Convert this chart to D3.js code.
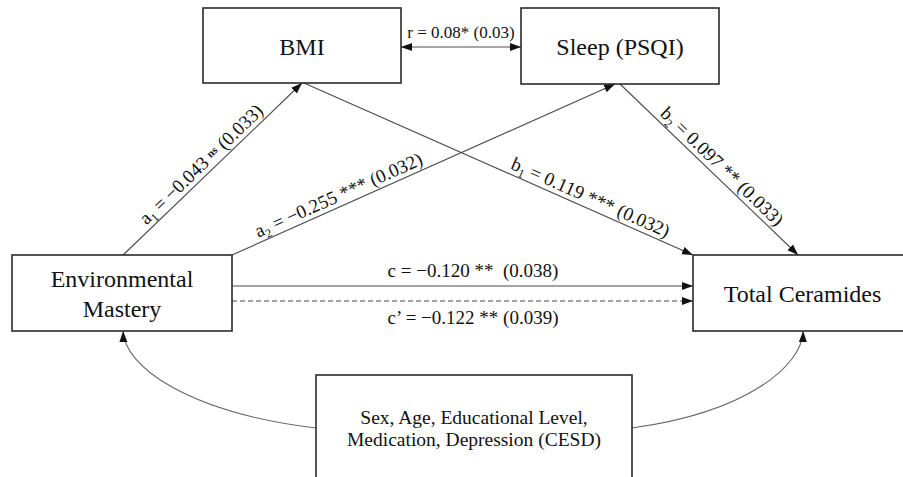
<!DOCTYPE html>
<html><head><meta charset="utf-8">
<script src="https://cdn.jsdelivr.net/npm/d3@7"></script>
<style>body{margin:0;background:#fff} svg{display:block}</style>
</head><body><svg id="chart" width="903" height="477"></svg>
<script>
// ---------- data ----------
const nodeIds    = ["bmi", "sleep", "env", "cer", "cov"];
const nodeLabels = [["BMI"], ["Sleep (PSQI)"], ["Environmental", "Mastery"], ["Total Ceramides"],
                    ["Sex, Age, Educational Level,", "Medication, Depression (CESD)"]];
const pathNames = ["a", "a", "b", "b", "c", "c\u2019"];
const pathSubs  = ["1", "2", "1", "2", "", ""];
const pathFrom  = ["env", "env", "bmi", "sleep", "env", "env"];
const pathTo    = ["bmi", "sleep", "cer", "cer", "cer", "cer"];
const pathCoef  = [-0.043, -0.255, 0.119, 0.097, -0.120, -0.122];
const pathSE    = [0.033, 0.032, 0.032, 0.033, 0.038, 0.039];
const pathSig   = ["ns", "***", "***", "**", "**", "**"];
const corrValue = [0.08];
const corrSig   = ["*"];
const corrSE    = [0.03];

// ---------- layout ----------
const boxes = {
  bmi:   {x: 203, y: 8,   w: 198, h: 75, size: 24, base: [55]},
  sleep: {x: 521, y: 8,   w: 198, h: 76, size: 24, base: [55]},
  env:   {x: 12,  y: 255, w: 220, h: 76, size: 24, base: [287, 317]},
  cer:   {x: 693, y: 255, w: 219, h: 76, size: 24, base: [302]},
  cov:   {x: 316, y: 375, w: 316, h: 130, size: 19.5, base: [424, 446]}
};

function anchor(id, side, f) {
  const b = boxes[id];
  if (side === "top") return [b.x + f * b.w, b.y];
  if (side === "bottom") return [b.x + f * b.w, b.y + b.h];
  if (side === "left") return [b.x, b.y + f * b.h];
  return [b.x + b.w, b.y + f * b.h];
}
const pathGeom = [
  {s: ["top", 0.505], t: ["bottom", 0.5],   lt: 0.48, off: 5},
  {s: ["top", 1.0],   t: ["bottom", 0.475], lt: 0.29, off: 5},
  {s: ["bottom", 0.51], t: ["top", 0.0],    lt: 0.725, off: 5},
  {s: ["bottom", 0.5], t: ["top", 0.48],    lt: 0.53, off: 5},
  {s: ["right", 0.408], t: ["left", 0.408], lab: [473, 277], dash: null},
  {s: ["right", 0.605], t: ["left", 0.605], lab: [473, 324], dash: "5,3"}
];

const svg = d3.select("#chart");
const FONT = "'Liberation Serif','Times New Roman',serif";
const fmt3 = d3.format(".3f"), fmt2 = d3.format(".2f");

const defs = svg.append("defs");
defs.append("marker").attr("id", "arr").attr("markerUnits", "userSpaceOnUse")
  .attr("markerWidth", 12).attr("markerHeight", 10).attr("refX", 11).attr("refY", 4.5)
  .attr("orient", "auto-start-reverse").attr("viewBox", "0 0 12 10")
  .append("path").attr("d", "M0,0.5 L11,4.5 L0,8.5 Z").attr("fill", "#111");

// straight paths
const lineColor = "#4a4a4a";
pathGeom.forEach((g, i) => {
  const p0 = anchor(pathFrom[i], g.s[0], g.s[1]);
  const p1 = anchor(pathTo[i], g.t[0], g.t[1]);
  svg.append("line").attr("x1", p0[0]).attr("y1", p0[1]).attr("x2", p1[0]).attr("y2", p1[1])
    .attr("stroke", lineColor).attr("stroke-width", 1.1)
    .attr("stroke-dasharray", g.dash).attr("marker-end", "url(#arr)");

  const t = svg.append("text").attr("font-family", FONT).attr("font-size", 19)
    .attr("fill", "#111").attr("text-anchor", "middle").style("white-space", "pre");
  if (g.lab) {
    t.attr("x", g.lab[0]).attr("y", g.lab[1]);
  } else {
    const ang = Math.atan2(p1[1] - p0[1], p1[0] - p0[0]);
    const cx = p0[0] + g.lt * (p1[0] - p0[0]) + Math.sin(ang) * g.off;
    const cy = p0[1] + g.lt * (p1[1] - p0[1]) - Math.cos(ang) * g.off;
    t.attr("transform", `translate(${cx},${cy}) rotate(${ang * 180 / Math.PI})`);
  }
  t.append("tspan").text(pathNames[i]);
  if (pathSubs[i]) {
    t.append("tspan").attr("font-size", 12).attr("dy", 4).text(pathSubs[i]);
    t.append("tspan").attr("dy", -4).text(" = " + fmt3(pathCoef[i]) + " ");
  } else {
    t.append("tspan").text(" = " + fmt3(pathCoef[i]) + " ");
  }
  if (pathSig[i] === "ns") {
    t.append("tspan").attr("font-size", 11).attr("font-weight", "bold").attr("dy", -4).text("ns");
    t.append("tspan").attr("dy", 4).text(" (" + fmt3(pathSE[i]) + ")");
  } else {
    const gap = pathNames[i] === "c" ? "  " : " ";
    t.append("tspan").text(pathSig[i] + gap + "(" + fmt3(pathSE[i]) + ")");
  }
});

// correlation double arrow
{
  const p0 = anchor("bmi", "right", 0.52), p1 = anchor("sleep", "left", 0.51);
  svg.append("line").attr("x1", p0[0]).attr("y1", p0[1]).attr("x2", p1[0]).attr("y2", p0[1])
    .attr("stroke", "#888").attr("stroke-width", 1.6)
    .attr("marker-start", "url(#arr)").attr("marker-end", "url(#arr)");
  svg.append("text").attr("font-family", FONT).attr("font-size", 17).attr("fill", "#111")
    .attr("text-anchor", "middle").attr("x", (p0[0] + p1[0]) / 2).attr("y", 38)
    .text("r = " + fmt2(corrValue[0]) + corrSig[0] + " (" + fmt2(corrSE[0]) + ")");
}

// covariate curves
{
  const L0 = anchor("cov", "left", 0.408), L1 = anchor("env", "bottom", 0.505);
  const R0 = anchor("cov", "right", 0.408), R1 = anchor("cer", "bottom", 0.503);
  const curve = (a, b) => {
    const dx = b[0] - a[0];
    return `M${a[0]},${a[1]} C${a[0] + dx * 0.68},${a[1] - 16} ${b[0] - dx * 0.005},${a[1] - 63} ${b[0]},${b[1]}`;
  };
  [[L0, L1], [R0, R1]].forEach(([a, b]) => {
    svg.append("path").attr("d", curve(a, b)).attr("fill", "none")
      .attr("stroke", "#666").attr("stroke-width", 1.1).attr("marker-end", "url(#arr)");
  });
}

// boxes
nodeIds.forEach((id, i) => {
  const b = boxes[id];
  svg.append("rect").attr("x", b.x).attr("y", b.y).attr("width", b.w).attr("height", b.h)
    .attr("fill", "#fff").attr("stroke", "#2a2a2a").attr("stroke-width", 1.6);
  nodeLabels[i].forEach((ln, j) => {
    svg.append("text").attr("font-family", FONT).attr("font-size", b.size).attr("fill", "#111")
      .attr("text-anchor", "middle").attr("x", b.x + b.w / 2).attr("y", b.base[j]).text(ln);
  });
});
</script></body></html>
